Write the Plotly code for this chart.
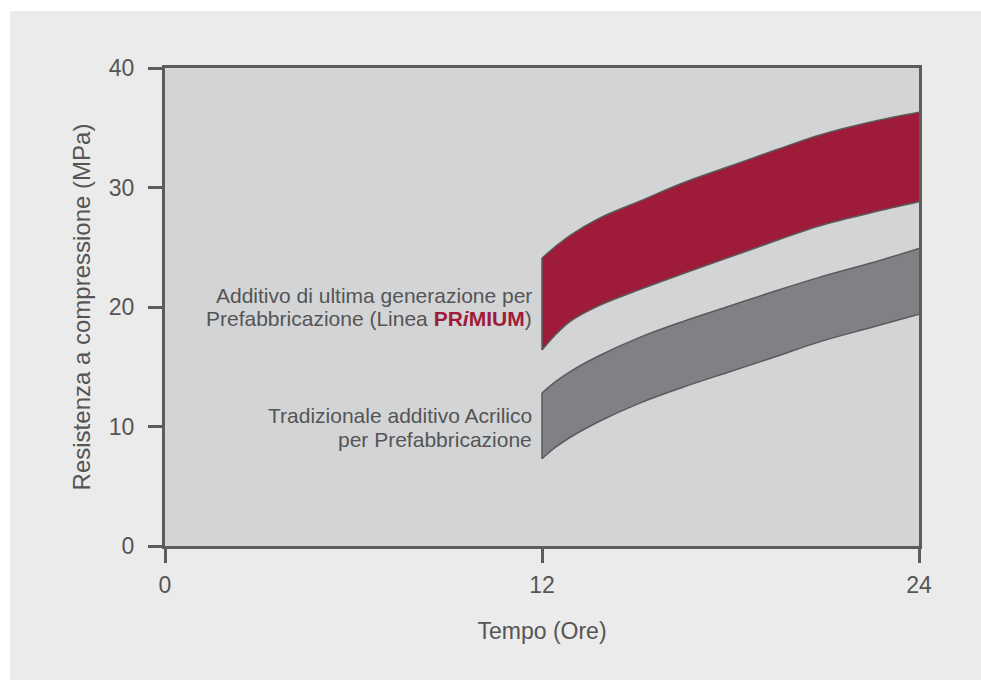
import plotly.graph_objects as go

# ---- data ----
hours = [12, 12.4, 12.9, 13.8, 15.15, 16.5, 18, 19.5, 20.85, 22.5, 24]
primium_upper = [24.1, 25.0, 26.0, 27.4, 28.9, 30.4, 31.8, 33.2, 34.4, 35.5, 36.3]
primium_lower = [16.4, 17.6, 18.8, 20.1, 21.5, 22.8, 24.2, 25.6, 26.8, 27.9, 28.8]
acrylic_upper = [12.8, 13.7, 14.6, 15.9, 17.5, 18.8, 20.1, 21.4, 22.5, 23.7, 24.9]
acrylic_lower = [7.3, 8.2, 9.1, 10.4, 12.0, 13.3, 14.6, 15.9, 17.1, 18.3, 19.4]

x_ticks = [0, 12, 24]
y_ticks = [0, 10, 20, 30, 40]

RED = "#9e1c3a"
GREY_BAND = "#808184"
EDGE = "#5a5a5a"
AXIS = "#5c5c5c"
TEXT = "#555555"
FONT = "Liberation Sans, Arial, sans-serif"

fig = go.Figure()


def add_band(upper, lower, color, name):
    fig.add_trace(go.Scatter(
        x=hours, y=lower, mode="lines", line=dict(color=EDGE, width=1.5, shape="spline", smoothing=1.0),
        showlegend=False, hoverinfo="skip", name=name + " min"))
    fig.add_trace(go.Scatter(
        x=hours, y=upper, mode="lines", line=dict(color=EDGE, width=1.5, shape="spline", smoothing=1.0),
        fill="tonexty", fillcolor=color, showlegend=False, name=name))
    # left closing edge of the band
    fig.add_trace(go.Scatter(
        x=[hours[0], hours[0]], y=[lower[0], upper[0]], mode="lines",
        line=dict(color=EDGE, width=1.5), showlegend=False, hoverinfo="skip"))


add_band(acrylic_upper, acrylic_lower, GREY_BAND, "Tradizionale additivo Acrilico")
add_band(primium_upper, primium_lower, RED, "PRiMIUM")

ann_font = dict(family=FONT, size=21, color=TEXT)
labels = [
    ("Additivo di ultima generazione per", 21.0),
    ("Prefabbricazione (Linea <b><span style='color:%s'>PR<i>i</i>MIUM</span></b>)" % RED, 19.05),
    ("Tradizionale additivo Acrilico", 10.95),
    ("per Prefabbricazione", 8.95),
]
for txt, yy in labels:
    fig.add_annotation(x=12, y=yy, xref="x", yref="y", text=txt, showarrow=False,
                       xanchor="right", yanchor="middle", xshift=-8, font=ann_font)

# white strips top and left (outer frame of the picture)
fig.add_shape(type="rect", xref="paper", yref="paper", x0=-1, x1=2, y0=1.1192, y1=2,
              fillcolor="white", line_width=0, layer="above")
fig.add_shape(type="rect", xref="paper", yref="paper", x0=-1, x1=-0.2056, y0=-1, y1=2,
              fillcolor="white", line_width=0, layer="above")

axis_common = dict(
    showline=True, linecolor=AXIS, linewidth=3, mirror=True,
    ticks="outside", ticklen=14, tickwidth=3, tickcolor=AXIS,
    showgrid=False, zeroline=False,
    tickfont=dict(family=FONT, size=23, color=TEXT),
)

fig.update_xaxes(range=[0, 24], tickvals=x_ticks, ticktext=[str(v) for v in x_ticks],
                 title=dict(text="Tempo (Ore)", font=dict(family=FONT, size=23, color=TEXT), standoff=27),
                 ticklabelstandoff=2,
                 **axis_common)
fig.update_yaxes(range=[0, 40], tickvals=y_ticks, ticktext=[str(v) for v in y_ticks],
                 title=dict(text="Resistenza a compressione (MPa)", font=dict(family=FONT, size=24, color=TEXT), standoff=12),
                 ticklabelstandoff=9,
                 **axis_common)

fig.update_layout(
    width=981, height=680,
    margin=dict(l=165, r=62, t=68, b=134, pad=0),
    paper_bgcolor="#ebebeb",
    plot_bgcolor="#d3d4d6",
    font=dict(family=FONT, color=TEXT),
    showlegend=False,
)

fig.write_html(
    "out.html",
    config={"displayModeBar": False},
    post_script="document.body.style.margin='0';document.body.style.overflow='hidden';",
)
